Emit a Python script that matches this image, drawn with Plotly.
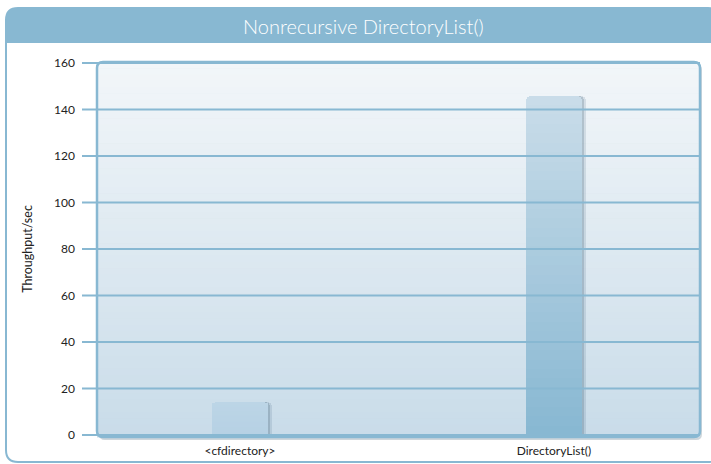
import plotly.graph_objects as go

categories = ["<cfdirectory>", "DirectoryList()"]
throughput = [14, 146]
y_ticks = [0, 20, 40, 60, 80, 100, 120, 140, 160]

W, H = 711, 464
L, R, T, B = 82, 11, 60, 26
PW, PH = W - L - R, H - T - B
EDGE = "#88B8D2"
FONT = "Lato"


def px(x):
    return (x - L) / PW


def py(y):
    return (H - B - y) / PH


def rrect(x0, y0, x1, y1, r, top_only=False):
    # rounded rect in screen pixels -> path in paper coords
    pts = [f"M{px(x0)},{py(y0 + r)}", f"Q{px(x0)},{py(y0)} {px(x0 + r)},{py(y0)}",
           f"L{px(x1 - r)},{py(y0)}", f"Q{px(x1)},{py(y0)} {px(x1)},{py(y0 + r)}"]
    if top_only:
        pts += [f"L{px(x1)},{py(y1)}", f"L{px(x0)},{py(y1)}"]
    else:
        pts += [f"L{px(x1)},{py(y1 - r)}", f"Q{px(x1)},{py(y1)} {px(x1 - r)},{py(y1)}",
                f"L{px(x0 + r)},{py(y1)}", f"Q{px(x0)},{py(y1)} {px(x0)},{py(y1 - r)}"]
    return " ".join(pts) + " Z"


def mix(c1, c2, t):
    a = [int(c1[i:i + 2], 16) for i in (1, 3, 5)]
    b = [int(c2[i:i + 2], 16) for i in (1, 3, 5)]
    return "rgb(%d,%d,%d)" % tuple(round(a[i] + (b[i] - a[i]) * t) for i in range(3))


shapes = []
# outer frame + header band
shapes.append(dict(type="path", xref="paper", yref="paper", layer="below",
                   path=rrect(6, 8, 720, 462, 12), line=dict(color=EDGE, width=2),
                   fillcolor="white"))
shapes.append(dict(type="path", xref="paper", yref="paper", layer="below",
                   path=rrect(6, 8, 720, 43, 12, top_only=True), line=dict(width=0),
                   fillcolor=EDGE))

# plot box: shadow, gradient stripes, border
bx0, by0, bx1, by1 = 97, 62, 700, 437
shapes.append(dict(type="path", xref="paper", yref="paper", layer="below",
                   path=rrect(bx0 + 2, by0 + 2, bx1 + 2, by1 + 3, 6), line=dict(width=0),
                   fillcolor="rgba(60,90,110,0.25)"))
n = 60
for i in range(n):
    ya = by0 + (by1 - by0) * i / n
    yb = by0 + (by1 - by0) * (i + 1) / n
    shapes.append(dict(type="rect", xref="paper", yref="paper", layer="below",
                       x0=px(bx0), x1=px(bx1), y0=py(ya), y1=py(yb + 0.5),
                       line=dict(width=0), fillcolor=mix("#F2F6F9", "#C9DCE9", i / (n - 1))))
shapes.append(dict(type="path", xref="paper", yref="paper", layer="above",
                   path=rrect(bx0, by0, bx1, by1, 6), line=dict(color=EDGE, width=2.5)))

# grid lines on top of the bars, extending left as tick marks
for v in y_ticks:
    shapes.append(dict(type="line", xref="paper", yref="y", layer="above",
                       x0=0, x1=px(bx1), y0=v, y1=v, line=dict(color=EDGE, width=2)))

fig = go.Figure()
xs = list(range(len(categories)))
BW = 0.18
# bar shadows
for dx, op in [(0.006, 0.22), (0.011, 0.14)]:
    fig.add_trace(go.Bar(x=xs, y=throughput, width=BW, offset=-BW / 2 + dx,
                         marker=dict(color=f"rgba(60,95,120,{op})", line=dict(width=0),
                                     cornerradius=5),
                         hoverinfo="skip", showlegend=False))
# nested bars from tallest to shortest give each bar a vertical gradient
segs = 36
bottoms = ["#B6D1E4", "#88B8D2"]
tops = ["#BCD5E6", "#C9DCE9"]
for k in range(segs, 0, -1):
    t = (k - 1) / (segs - 1)
    frac = k / segs
    fig.add_trace(go.Bar(
        x=xs, y=[v * frac for v in throughput], width=BW, offset=-BW / 2,
        marker=dict(color=[mix(bottoms[i], tops[i], t) for i in range(len(xs))],
                    line=dict(width=0), cornerradius=5 if k == segs else 0),
        hoverinfo="skip", showlegend=False))

fig.add_annotation(text="Nonrecursive DirectoryList()", xref="paper", yref="paper",
                   x=px(363), y=py(26), yanchor="middle", xanchor="center", showarrow=False,
                   font=dict(family=FONT, size=20, color="white", weight=300))

fig.update_layout(
    width=W, height=H, margin=dict(l=L, r=R, t=T, b=B),
    paper_bgcolor="white", plot_bgcolor="rgba(0,0,0,0)",
    barmode="overlay", bargap=0, shapes=shapes,
    font=dict(family=FONT, size=12, color="#333333"),
)
fig.update_xaxes(range=[-0.503, 1.465], tickvals=xs, ticktext=categories,
                 showgrid=False, zeroline=False, showline=False, ticks="",
                 ticklabelstandoff=4, automargin=False,
                 tickfont=dict(size=12, color="#222"), fixedrange=True)
fig.update_yaxes(range=[-1.3, 161.3], tickvals=y_ticks, showgrid=False, zeroline=False,
                 showline=False, ticks="", ticklabelstandoff=6, automargin=False,
                 tickfont=dict(size=12, color="#222"),
                 title=dict(text="Throughput/sec", standoff=18, font=dict(size=12.5, color="#222")))

fig.write_html("out.html", config={"displayModeBar": False},
               post_script="document.body.style.margin='0';")
